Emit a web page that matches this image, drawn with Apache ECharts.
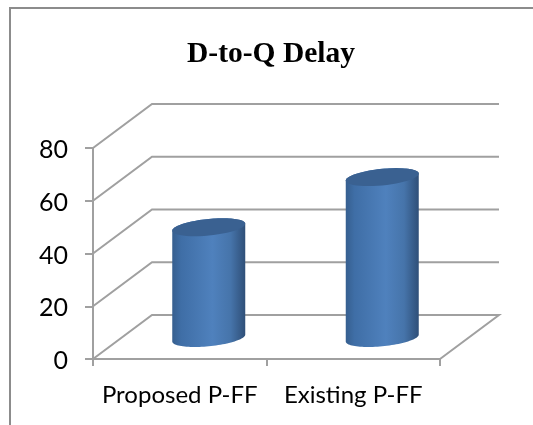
<!DOCTYPE html>
<html>
<head>
<meta charset="utf-8">
<style>html,body{margin:0;padding:0;background:#fff}#chart{width:533px;height:425px}</style>
<script src="https://cdn.jsdelivr.net/npm/echarts@6/dist/echarts.min.js"></script>
</head>
<body>
<div id="chart"></div>
<script>
const categories = ['Proposed P-FF', 'Existing P-FF'];
const delayValues = [42, 61];
const yTicks = [0, 20, 40, 60, 80];

// Oblique projection of the chart box: how far the back wall sits from the front plane.
const DEPTH_X = 59, DEPTH_Y = -44;
const LINE = '#a0a0a0';

const chart = echarts.init(document.getElementById('chart'));

// One gridline per tick: up the side wall, along the back wall, plus the tick's own label.
function renderWalls(params, api) {
  const v = api.value(0);
  const p = api.coord([categories[0], v]);
  const left = chart.convertToPixel({gridIndex: 0}, [categories[0], v]);
  const size = api.size([1, 0])[0];
  const x0 = left[0] - size / 2, x1 = x0 + size * 2, y = p[1];
  const style = {stroke: LINE, lineWidth: 2, fill: 'none'};
  const points = v === 0
    ? [[x0, y], [x0 + DEPTH_X, y + DEPTH_Y], [x1 + DEPTH_X, y + DEPTH_Y], [x1, y]]
    : [[x0, y], [x0 + DEPTH_X, y + DEPTH_Y], [x1 + DEPTH_X, y + DEPTH_Y]];
  return {
    type: 'group',
    silent: true,
    children: [
      {type: 'polyline', shape: {points}, style},
      {
        type: 'text',
        style: {
          text: String(v),
          x: x0 - 25,
          y: y + 2,
          align: 'right',
          verticalAlign: 'middle',
          fontFamily: 'Lato',
          fontSize: 25,
          fill: '#000'
        }
      }
    ]
  };
}

function ellipse(cx, cy, a, b, tilt, from, to) {
  const pts = [];
  for (let i = 0; i <= 48; i++) {
    const t = from + (to - from) * i / 48;
    pts.push([cx + a * Math.cos(t), cy + b * Math.sin(t) - tilt * a * Math.cos(t)]);
  }
  return pts;
}

function renderCylinder(params, api) {
  const idx = api.value(0);
  const top = api.coord([idx, api.value(1)]);
  const base = api.coord([idx, 0]);
  // Bars stand halfway into the box.
  const cx = base[0] + 29;
  const lift = -21;
  const a = 36.5, b = 8.3, tilt = 0.095;
  const yTop = top[1] + lift, yBase = base[1] + lift;
  const body = ellipse(cx, yBase, a, b, tilt, 0, Math.PI)
    .concat(ellipse(cx, yTop, a, b, tilt, Math.PI, 2 * Math.PI));
  return {
    type: 'group',
    children: [
      {
        type: 'polygon',
        shape: {points: body},
        style: {
          fill: new echarts.graphic.LinearGradient(0, 0, 1, 0, [
            {offset: 0, color: '#365f8f'},
            {offset: 0.12, color: '#3f6ea6'},
            {offset: 0.55, color: '#4f81bd'},
            {offset: 0.8, color: '#4674aa'},
            {offset: 1, color: '#2f4f78'}
          ])
        }
      },
      {
        type: 'polygon',
        shape: {points: ellipse(cx, yTop, a, b, tilt, 0, 2 * Math.PI)},
        style: {fill: '#3a6191'}
      }
    ]
  };
}

chart.setOption({
  animation: false,
  backgroundColor: '#ffffff',
  title: {
    text: 'D-to-Q Delay',
    left: 266,
    top: 34,
    textAlign: 'center',
    textStyle: {fontFamily: 'Liberation Serif', fontWeight: 'bold', fontSize: 29.5, color: '#000'}
  },
  graphic: [{
    type: 'polyline',
    silent: true,
    shape: {points: [[10, 425], [10, 8], [533, 8]]},
    style: {stroke: '#8c8c8c', lineWidth: 2, fill: 'none'}
  }],
  grid: {left: 93, width: 347, top: 148, height: 211},
  xAxis: {
    type: 'category',
    data: categories,
    axisLine: {lineStyle: {color: LINE, width: 2}},
    axisTick: {show: true, length: 7, alignWithLabel: false, lineStyle: {color: LINE, width: 2}},
    axisLabel: {fontFamily: 'Lato', fontSize: 24, color: '#000', margin: 24, interval: 0}
  },
  yAxis: {
    type: 'value',
    min: 0,
    max: 80,
    interval: 20,
    splitLine: {show: false},
    axisLine: {show: true, lineStyle: {color: LINE, width: 2}},
    axisTick: {show: true, length: 8, lineStyle: {color: LINE, width: 2}},
    axisLabel: {show: false}
  },
  series: [
    {
      type: 'custom',
      coordinateSystem: 'cartesian2d',
      renderItem: renderWalls,
      encode: {y: 0},
      data: yTicks.map(t => [t]),
      silent: true,
      z: 1
    },
    {
      type: 'custom',
      coordinateSystem: 'cartesian2d',
      renderItem: renderCylinder,
      encode: {x: 0, y: 1},
      data: delayValues.map((v, i) => [i, v]),
      z: 2
    }
  ]
});
</script>
</body>
</html>
